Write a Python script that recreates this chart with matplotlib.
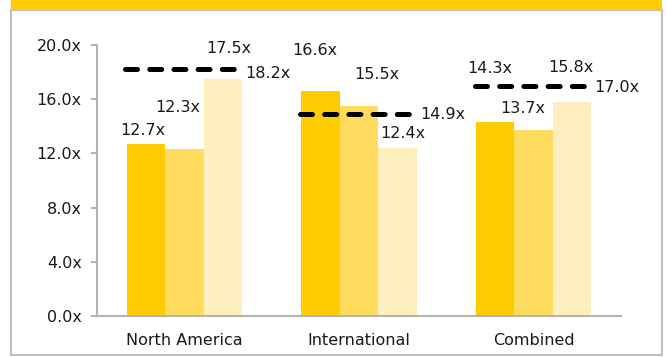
import matplotlib
matplotlib.use('Agg')
import matplotlib.pyplot as plt
from matplotlib.patches import Rectangle
import numpy as np

plt.rcParams['font.family'] = ['DejaVu Sans']

# data
categories = ["North America", "International", "Combined"]
series_1 = [12.7, 16.6, 14.3]
series_2 = [12.3, 15.5, 13.7]
series_3 = [17.5, 12.4, 15.8]
averages = [18.2, 14.9, 17.0]

colors = ["#FFCC00", "#FFDB5E", "#FFEFBF"]
grey = "#B3B3B3"

# label offsets (points) relative to top centre of each bar, hand placed like the original
label_off = [
    [(-2, 4.5), (-5, 24.5), (4, 16.5)],
    [(-4, 23.5), (13, 17), (4, 5)],
    [(-4, 33), (-8, 10.5), (-1, 19.5)],
]
avg_label_dy = [-3, 0, -1.5]

fig = plt.figure(figsize=(6.67, 3.57), dpi=100)

# outer frame and yellow band
fig.patches.append(Rectangle((11 / 667, 2 / 357), 651 / 667, 345 / 357, transform=fig.transFigure,
                             facecolor="white", edgecolor="#BFBFBF", lw=1.5, zorder=-2))
fig.patches.append(Rectangle((11 / 667, 347 / 357), 651 / 667, 10 / 357, transform=fig.transFigure,
                             facecolor="#FFCC00", edgecolor="none", zorder=-1))

ax = fig.add_axes([97 / 667, 41 / 357, 524 / 667, 271 / 357])
ax.set_zorder(2)
ax.patch.set_alpha(0)

x = np.arange(len(categories))
w = 0.22
for i, vals in enumerate([series_1, series_2, series_3]):
    xs = x + (i - 1) * w
    ax.bar(xs, vals, width=w, color=colors[i], edgecolor="none", zorder=2)
    for j, v in enumerate(vals):
        dx, dy = label_off[j][i]
        ax.annotate(f"{v:.1f}x", xy=(xs[j], v), xytext=(dx, dy), textcoords="offset points",
                    ha="center", va="bottom", fontsize=11.5, color="#1a1a1a")

# dashed average lines
for j, a in enumerate(averages):
    x0, x1 = x[j] - 0.338, x[j] + 0.286
    ax.plot([x0, x1], [a, a], color="black", lw=3.6, linestyle=(0, (2.4, 2.44)),
            dash_capstyle="round", zorder=3)
    ax.annotate(f"{a:.1f}x", xy=(x1, a), xytext=(8, avg_label_dy[j]), textcoords="offset points",
                ha="left", va="center", fontsize=11.5, color="#1a1a1a")

ax.set_xlim(-0.5, 2.5)
ax.set_ylim(0, 20)
ax.set_yticks([0, 4, 8, 12, 16, 20])
ax.set_yticklabels([f"{t:.1f}x" for t in [0, 4, 8, 12, 16, 20]])
ax.set_xticks(x)
ax.set_xticklabels(categories)

for s in ["top", "right"]:
    ax.spines[s].set_visible(False)
for s in ["left", "bottom"]:
    ax.spines[s].set_color(grey)
    ax.spines[s].set_linewidth(1.5)
ax.tick_params(axis="y", direction="out", length=4, width=1.5, color=grey, pad=7,
               labelsize=11.5, labelcolor="#1a1a1a")
ax.tick_params(axis="x", length=0, pad=12, labelsize=11.5, labelcolor="#1a1a1a")

plt.savefig("out.png", dpi=100)
